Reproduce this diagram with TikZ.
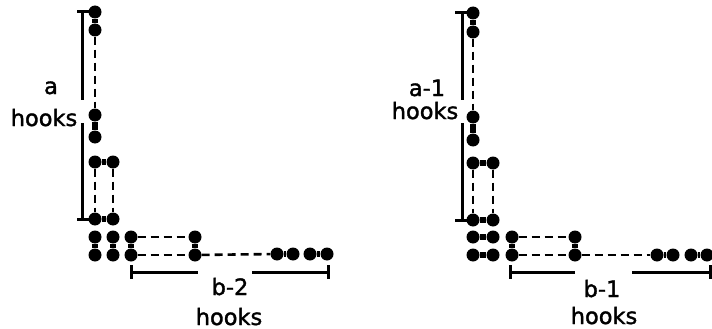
\documentclass[tikz,border=0pt]{standalone}
\usepackage{fontspec}
\setmainfont{DejaVu Sans}[FakeBold=1.6]
\begin{document}
\begin{tikzpicture}[x=1pt,y=-1pt,
  dot/.style={circle,fill=black,inner sep=0pt,minimum size=13pt},
  link/.style={line width=5.5pt},
  chain/.style={line width=2.6pt,dash pattern=on 8pt off 5pt},
  bracket/.style={line width=3pt},
  lbl/.style={font=\fontsize{22.5}{22.5}\selectfont,inner sep=0pt,anchor=base}]
\useasboundingbox (0,0) rectangle (712,329);

% ---------- left diagram ----------
\foreach \n/\x/\y in {a1/95/12, a2/95/30, a3/95/115, a4/95/137,
  b1/95/162, b2/113/162, b3/95/219, b4/113/219,
  c1/95/237, c2/95/255, c3/113/237, c4/113/255, c5/131/237, c6/131/255,
  d1/195/237, d2/195/255, e1/277/254, e2/293/254, e3/310/254, e4/327/254}
  \node[dot] (L\n) at (\x,\y) {};
\draw[link] (La1) -- (La2);
\draw[link] (La3) -- (La4);
\draw[link] (Lb1) -- (Lb2);
\draw[link] (Lb3) -- (Lb4);
\draw[link] (Lc1) -- (Lc2);
\draw[link] (Lc3) -- (Lc4);
\draw[link] (Lc5) -- (Lc6);
\draw[link] (Ld1) -- (Ld2);
\draw[link] (Le1) -- (Le2);
\draw[link] (Le3) -- (Le4);
\draw[chain] (La2) -- (La3);
\draw[chain] (Lb1) -- (Lb3);
\draw[chain] (Lb2) -- (Lb4);
\draw[chain] (Lc5) -- (Ld1);
\draw[chain] (Lc6) -- (Ld2);
\draw[chain] (Ld2) -- (Le1);

% brackets
\coordinate (LvTop) at (82,12);
\coordinate (LvGapA) at (82,100);
\coordinate (LvGapB) at (82,123);
\coordinate (LvBot) at (82,219);
\draw[bracket] (LvTop) -- (LvGapA) (LvGapB) -- (LvBot);
\draw[bracket] (77,12) -- (90,12) (77,219) -- (90,219);
\coordinate (LhL) at (131,272);
\coordinate (LhGapA) at (198,272);
\coordinate (LhGapB) at (252,272);
\coordinate (LhR) at (328,272);
\draw[bracket] (LhL) -- (LhGapA) (LhGapB) -- (LhR);
\draw[bracket] (131,265) -- (131,279) (328,265) -- (328,279);

\node[lbl] (La) at (51,94) {a};
\node[lbl] (Lhooks) at (44,126) {hooks};
\node[lbl] (Lb) at (230,295) {b-2};
\node[lbl] (Lhooksb) at (229,325) {hooks};

% ---------- right diagram ----------
\foreach \n/\x/\y in {a1/473/13, a2/473/32, a3/473/117, a4/473/140,
  b1/473/163, b2/493/163, b3/473/220, b4/493/220,
  c1/473/237, c2/493/237, c3/473/255, c4/493/255, c5/512/237, c6/512/255,
  d1/575/237, d2/575/255, e1/657/255, e2/673/255, e3/691/255, e4/707/255}
  \node[dot] (R\n) at (\x,\y) {};
\draw[link] (Ra1) -- (Ra2);
\draw[link] (Ra3) -- (Ra4);
\draw[link] (Rb1) -- (Rb2);
\draw[link] (Rb3) -- (Rb4);
\draw[link] (Rc1) -- (Rc2);
\draw[link] (Rc3) -- (Rc4);
\draw[link] (Rc5) -- (Rc6);
\draw[link] (Rd1) -- (Rd2);
\draw[link] (Re1) -- (Re2);
\draw[link] (Re3) -- (Re4);
\draw[chain] (Ra2) -- (Ra3);
\draw[chain] (Rb1) -- (Rb3);
\draw[chain] (Rb2) -- (Rb4);
\draw[chain] (Rc5) -- (Rd1);
\draw[chain] (Rc6) -- (Rd2);
\draw[chain] (Rd2) -- (Re1);

\coordinate (RvTop) at (462,13);
\coordinate (RvGapA) at (462,100);
\coordinate (RvGapB) at (462,123);
\coordinate (RvBot) at (462,220);
\draw[bracket] (RvTop) -- (RvGapA) (RvGapB) -- (RvBot);
\draw[bracket] (455,13) -- (470,13) (455,220) -- (470,220);
\coordinate (RhL) at (510,272);
\coordinate (RhGapA) at (575,272);
\coordinate (RhGapB) at (632,272);
\coordinate (RhR) at (710,272);
\draw[bracket] (RhL) -- (RhGapA) (RhGapB) -- (RhR);
\draw[bracket] (510,265) -- (510,279) (710,265) -- (710,279);

\node[lbl] (Ra) at (427,96) {a-1};
\node[lbl] (Rhooks) at (425,119) {hooks};
\node[lbl] (Rb) at (602,297) {b-1};
\node[lbl] (Rhooksb) at (604,324) {hooks};
\end{tikzpicture}
\end{document}
